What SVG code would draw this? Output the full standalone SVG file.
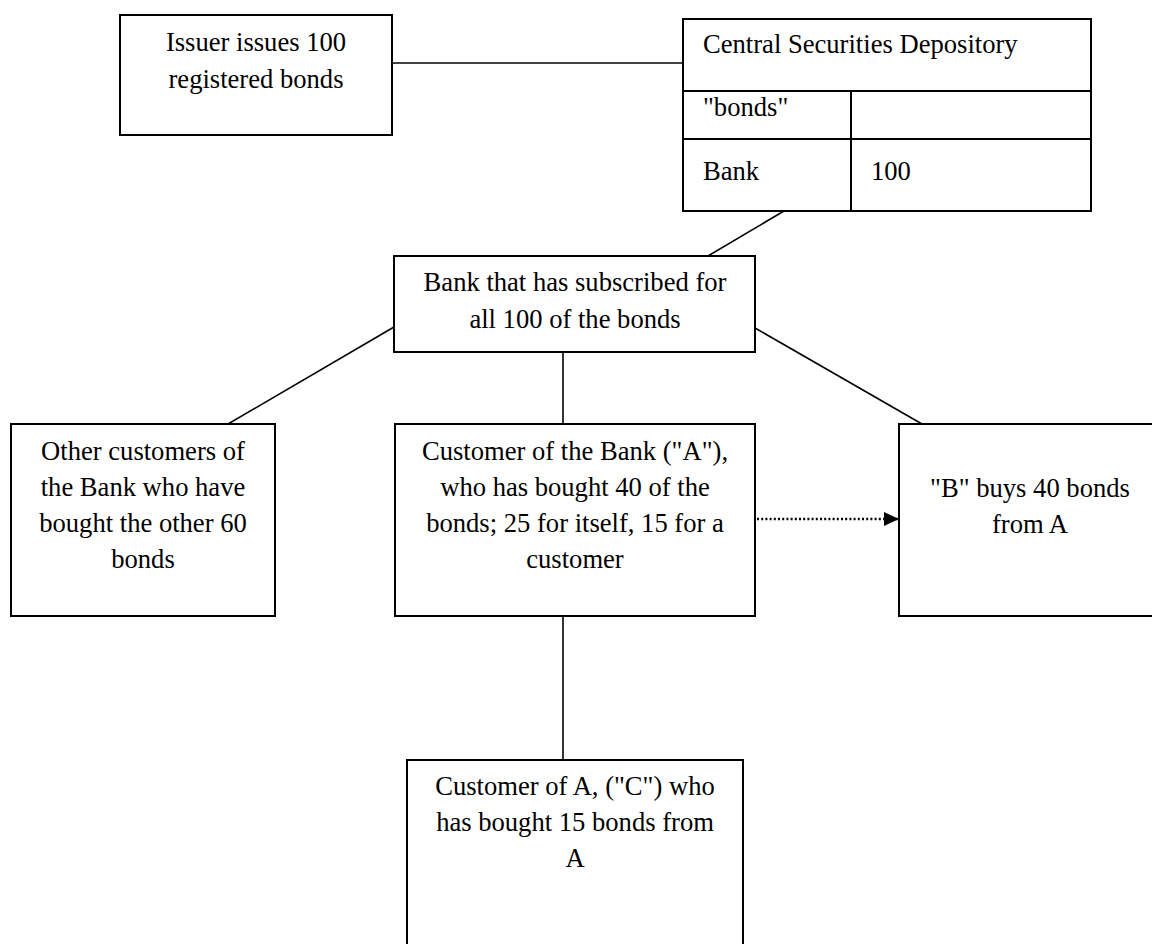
<svg xmlns="http://www.w3.org/2000/svg" width="1152" height="944" viewBox="0 0 1152 944">
  <style>
    .box { fill: #ffffff; stroke: #000000; stroke-width: 2; }
    .rule { stroke: #000000; stroke-width: 2; fill: none; }
    .link { stroke: #000000; stroke-width: 1.6; fill: none; }
    .dotted { stroke: #000000; stroke-width: 2.4; fill: none; stroke-dasharray: 2 2.2; }
    text { font-family: "Liberation Serif", "Times New Roman", serif; font-size: 26.6px; fill: #000000; }
    .c { text-anchor: middle; }
  </style>
  <defs>
    <marker id="arrowhead" viewBox="0 0 15 14" refX="15" refY="7" markerWidth="15" markerHeight="14" markerUnits="userSpaceOnUse" orient="auto">
      <path d="M0,0 L15,7 L0,14 Z" fill="#000000"/>
    </marker>
  </defs>
  <rect width="1152" height="944" fill="#ffffff"/>

  <!-- connectors -->
  <g id="connectors">
    <line class="link" x1="392" y1="63" x2="683" y2="63"/>
    <line class="link" x1="784" y1="211" x2="708" y2="256"/>
    <line class="link" x1="394" y1="327" x2="228" y2="424"/>
    <line class="link" x1="755" y1="328" x2="922" y2="424"/>
    <line class="link" x1="563" y1="352" x2="563" y2="424"/>
    <line class="link" x1="563" y1="616" x2="563" y2="760"/>
    <line class="dotted" x1="757" y1="519" x2="899" y2="519" marker-end="url(#arrowhead)"/>
  </g>

  <!-- issuer -->
  <g id="issuer">
    <rect class="box" x="120" y="15" width="272" height="120"/>
    <text class="c" x="256" y="51">Issuer issues 100</text>
    <text class="c" x="256" y="88">registered bonds</text>
  </g>

  <!-- central securities depository register -->
  <g id="csd">
    <rect class="box" x="683" y="19" width="408" height="192"/>
    <line class="rule" x1="683" y1="91" x2="1091" y2="91"/>
    <line class="rule" x1="683" y1="139" x2="1091" y2="139"/>
    <line class="rule" x1="851" y1="91" x2="851" y2="211"/>
    <text x="703" y="53">Central Securities Depository</text>
    <text x="703" y="116">"bonds"</text>
    <text x="703" y="180">Bank</text>
    <text x="871" y="180">100</text>
  </g>

  <!-- subscribing bank -->
  <g id="bank">
    <rect class="box" x="394" y="256" width="361" height="96"/>
    <text class="c" x="575" y="291">Bank that has subscribed for</text>
    <text class="c" x="575" y="328">all 100 of the bonds</text>
  </g>

  <!-- other customers -->
  <g id="others">
    <rect class="box" x="11" y="424" width="264" height="192"/>
    <text class="c" x="143" y="460">Other customers of</text>
    <text class="c" x="143" y="496">the Bank who have</text>
    <text class="c" x="143" y="532">bought the other 60</text>
    <text class="c" x="143" y="568">bonds</text>
  </g>

  <!-- customer A -->
  <g id="customer-a">
    <rect class="box" x="395" y="424" width="360" height="192"/>
    <text class="c" x="575" y="460">Customer of the Bank ("A"),</text>
    <text class="c" x="575" y="496">who has bought 40 of the</text>
    <text class="c" x="575" y="532">bonds; 25 for itself, 15 for a</text>
    <text class="c" x="575" y="568">customer</text>
  </g>

  <!-- buyer B -->
  <g id="buyer-b">
    <rect class="box" x="899" y="424" width="264" height="192"/>
    <text class="c" x="1030" y="497">"B" buys 40 bonds</text>
    <text class="c" x="1030" y="533">from A</text>
  </g>

  <!-- customer C -->
  <g id="customer-c">
    <rect class="box" x="407" y="760" width="336" height="200"/>
    <text class="c" x="575" y="795">Customer of A, ("C") who</text>
    <text class="c" x="575" y="831">has bought 15 bonds from</text>
    <text class="c" x="575" y="867">A</text>
  </g>
</svg>
